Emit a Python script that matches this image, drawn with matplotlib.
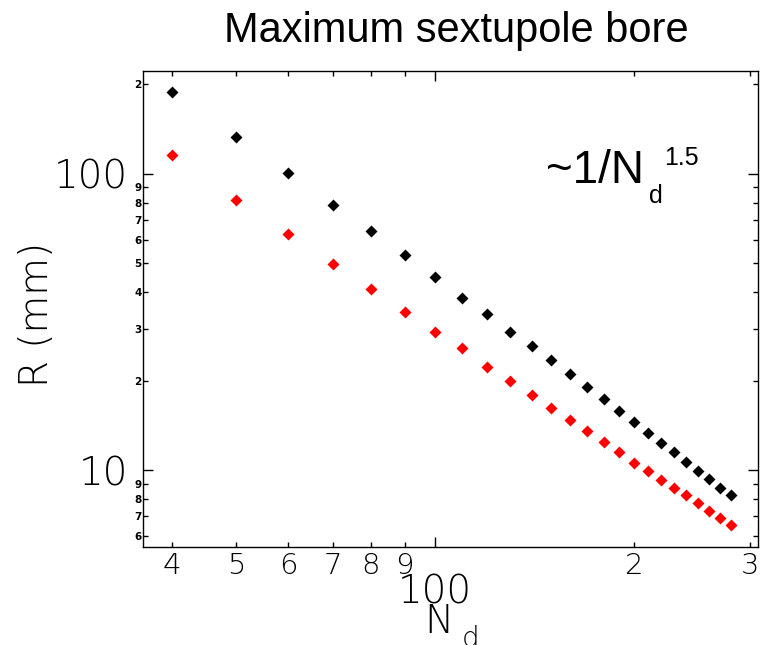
import matplotlib
matplotlib.use('Agg')
import matplotlib.pyplot as plt

# maximum sextupole bore vs number of dipoles
nd = [40, 50, 60, 70, 80, 90, 100, 110, 120, 130, 140, 150, 160,
      170, 180, 190, 200, 210, 220, 230, 240, 250, 260, 270, 280]
r_black = [188, 133, 100.5, 78.6, 63.9, 53.4, 44.9, 38.1, 33.7, 29.4, 26.2, 23.5, 21.2,
           19.1, 17.4, 15.9, 14.6, 13.4, 12.4, 11.5, 10.7, 9.95, 9.33, 8.70, 8.26]
r_red = [115.3, 81.7, 62.5, 49.5, 40.8, 34.2, 29.4, 25.9, 22.4, 20.0, 17.9, 16.3, 14.8,
         13.6, 12.5, 11.5, 10.6, 9.95, 9.27, 8.75, 8.24, 7.74, 7.33, 6.93, 6.54]

x_major_ticks = [100]
x_major_labels = ['100']
x_minor_ticks = [40, 50, 60, 70, 80, 90, 200, 300]
x_minor_labels = ['4', '5', '6', '7', '8', '9', '2', '3']
y_major_ticks = [10, 100]
y_major_labels = ['10', '100']
y_minor_ticks = [6, 7, 8, 9, 20, 30, 40, 50, 60, 70, 80, 90, 200]
y_minor_labels = ['6', '7', '8', '9', '2', '3', '4', '5', '6', '7', '8', '9', '2']

thin = dict(family='DejaVu Sans', fontweight='light')

fig = plt.figure(figsize=(7.62, 6.45), dpi=100)
ax = fig.add_axes([0.188, 0.1515, 0.8068, 0.7384])
ax.set_xscale('log')
ax.set_yscale('log')

ax.plot(nd, r_black, 'D', color='black', ms=6.5, mec='none')
ax.plot(nd, r_red, 'D', color='red', ms=6.5, mec='none')

ax.set_xlim(36.2, 308)
ax.set_ylim(5.51, 222)

ax.set_xticks(x_major_ticks)
ax.set_xticklabels(x_major_labels, fontsize=28, **thin)
ax.set_xticks(x_minor_ticks, minor=True)
ax.set_xticklabels(x_minor_labels, minor=True, fontsize=21, **thin)
ax.set_yticks(y_major_ticks)
ax.set_yticklabels(y_major_labels, fontsize=28, **thin)
ax.set_yticks(y_minor_ticks, minor=True)
ax.set_yticklabels(y_minor_labels, minor=True, fontsize=7.5, fontweight='bold')

ax.tick_params(which='both', direction='in', top=True, right=True, width=1)
ax.tick_params(which='major', length=7.5)
ax.tick_params(which='minor', length=3.6)
ax.tick_params(axis='x', which='major', pad=19)
ax.tick_params(axis='x', which='minor', pad=3.5)
ax.tick_params(axis='y', which='major', pad=11)
ax.tick_params(axis='y', which='minor', pad=1)
for s in ax.spines.values():
    s.set_linewidth(1)

ax.set_ylabel('R (mm)', fontsize=28, **thin)
ax.yaxis.set_label_coords(-0.142, 0.488)
ax.set_xlabel('N', fontsize=28, **thin)
ax.xaxis.set_label_coords(0.481, -0.116)
ax.xaxis.label.set_va('top')
ax.text(0.518, -0.163, 'd', transform=ax.transAxes, va='top', fontsize=20, **thin)

ax.set_title('Maximum sextupole bore', family='Liberation Sans', fontsize=30, x=0.51, pad=21)

# scaling annotation
ax.text(0.655, 0.765, '~1/N', transform=ax.transAxes, family='Liberation Sans', fontsize=33)
ax.text(0.822, 0.723, 'd', transform=ax.transAxes, family='Liberation Sans', fontsize=18)
ax.text(0.848, 0.803, '1.5', transform=ax.transAxes, family='Liberation Sans', fontsize=18)

fig.savefig('out.png', dpi=100)
